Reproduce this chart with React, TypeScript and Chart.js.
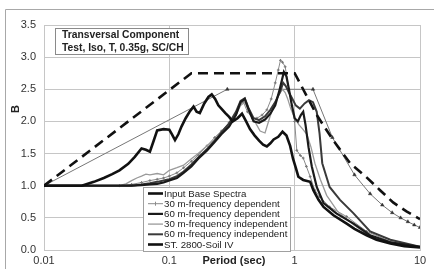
import { useEffect, useRef } from "react";
import { Chart, registerables } from "chart.js";
Chart.register(...registerables);

const FONT = '"Liberation Sans", Arial, sans-serif';

const xTickValues = [0.01, 0.1, 1, 10];
const xTickLabels = ["0.01", "0.1", "1", "10"];

const legendLabels = [
  "Input Base Spectra",
  "30 m-frequency dependent",
  "60 m-frequency dependent",
  "30 m-frequency independent",
  "60 m-frequency independent",
  "ST. 2800-Soil IV",
];
const boxLines = ["Transversal Component", "Test, Iso, T, 0.35g, SC/CH"];

const inputT = [0.01, 0.02, 0.025, 0.03, 0.035, 0.04, 0.047, 0.053, 0.06, 0.065, 0.07, 0.075, 0.08, 0.09, 0.1, 0.105, 0.111, 0.118, 0.125, 0.135, 0.145, 0.156, 0.165, 0.175, 0.19, 0.205, 0.218, 0.232, 0.246, 0.26, 0.28, 0.3, 0.32, 0.35, 0.38, 0.41, 0.44, 0.48, 0.52, 0.56, 0.6, 0.64, 0.68, 0.74, 0.8, 0.86, 0.92, 0.97, 1.02, 1.07, 1.17, 1.33, 1.41, 1.55, 1.7, 2.04, 2.6, 3.0, 3.75, 4.5, 5.8, 7.5, 10];
const inputB = [1.0, 1.0, 1.06, 1.12, 1.18, 1.24, 1.34, 1.45, 1.58, 1.56, 1.53, 1.7, 1.86, 1.88, 1.87, 1.8, 1.71, 1.8, 1.92, 2.05, 2.15, 2.23, 2.15, 2.13, 2.28, 2.38, 2.42, 2.35, 2.25, 2.2, 2.13, 2.07, 2.0, 2.05, 2.12, 2.0, 1.88, 1.78, 1.7, 1.64, 1.61, 1.66, 1.72, 1.76, 1.84, 1.78, 1.62, 1.42, 1.28, 1.14, 1.09, 1.06, 0.93, 0.78, 0.67, 0.54, 0.41, 0.33, 0.23, 0.16, 0.1, 0.06, 0.04];

const dep30T = [0.01, 0.04, 0.05, 0.06, 0.07, 0.08, 0.09, 0.1, 0.115, 0.13, 0.15, 0.17, 0.2, 0.23, 0.26, 0.3, 0.34, 0.37, 0.39, 0.42, 0.46, 0.5, 0.55, 0.6, 0.65, 0.7, 0.74, 0.77, 0.8, 0.84, 0.9, 0.95, 1.0, 1.04, 1.11, 1.17, 1.24, 1.33, 1.45, 1.58, 1.9, 2.6, 3.75, 5.8, 10];
const dep30B = [1.0, 1.0, 1.02, 1.05, 1.08, 1.1, 1.12, 1.15, 1.2, 1.28, 1.38, 1.48, 1.62, 1.75, 1.85, 1.98, 2.12, 2.28, 2.3, 2.15, 2.05, 2.05, 2.1, 2.18, 2.35, 2.6, 2.8, 2.95, 2.92, 2.85, 2.5, 2.25, 2.0, 1.55, 1.47, 1.43, 1.3, 1.14, 0.93, 0.83, 0.67, 0.52, 0.29, 0.13, 0.05];

const dep60T = [0.01, 0.05, 0.06, 0.07, 0.08, 0.09, 0.1, 0.115, 0.13, 0.15, 0.17, 0.2, 0.23, 0.26, 0.3, 0.34, 0.37, 0.4, 0.43, 0.47, 0.52, 0.58, 0.64, 0.7, 0.76, 0.82, 0.86, 0.9, 0.95, 1.0, 1.06, 1.12, 1.17, 1.22, 1.29, 1.37, 1.5, 1.7, 2.15, 2.95, 4.0, 5.8, 10];
const dep60B = [1.0, 1.0, 1.01, 1.02, 1.03, 1.05, 1.08, 1.12, 1.2, 1.3, 1.42, 1.55, 1.68, 1.8, 1.92, 2.1, 2.3, 2.35, 2.18, 2.0, 1.98, 2.03, 2.12, 2.25, 2.5, 2.77, 2.7, 2.5, 2.25, 2.05, 2.0, 2.1, 2.15, 1.95, 1.6, 1.3, 0.98, 0.73, 0.57, 0.41, 0.23, 0.12, 0.05];

const ind30T = [0.01, 0.04, 0.045, 0.05, 0.055, 0.06, 0.065, 0.07, 0.08, 0.09, 0.1, 0.115, 0.13, 0.15, 0.17, 0.2, 0.23, 0.26, 0.3, 0.34, 0.37, 0.4, 0.44, 0.48, 0.53, 0.58, 0.63, 0.68, 0.74, 0.8, 0.84, 0.88, 0.93, 1.0, 1.08, 1.16, 1.25, 1.35, 1.45, 1.6, 1.8, 2.2, 3.0, 4.0, 5.8, 10];
const ind30B = [1.0, 1.0, 1.03, 1.08, 1.12, 1.15, 1.18, 1.17, 1.19, 1.17, 1.24, 1.28, 1.32, 1.42, 1.5, 1.62, 1.72, 1.82, 1.95, 2.1, 2.25, 2.3, 2.12, 2.0, 1.85, 1.82, 2.05, 2.25, 2.4, 2.5, 2.45, 2.35, 2.2, 2.05, 1.95, 1.88, 1.8, 1.6, 1.35, 1.1, 0.85, 0.6, 0.38, 0.22, 0.11, 0.05];

const ind60T = [0.01, 0.05, 0.06, 0.07, 0.08, 0.09, 0.1, 0.115, 0.13, 0.15, 0.17, 0.2, 0.23, 0.26, 0.3, 0.34, 0.37, 0.4, 0.43, 0.47, 0.52, 0.58, 0.64, 0.7, 0.76, 0.81, 0.85, 0.9, 0.96, 1.02, 1.1, 1.2, 1.3, 1.4, 1.5, 1.58, 1.66, 1.9, 2.3, 2.95, 4.0, 5.8, 10];
const ind60B = [1.0, 1.0, 1.02, 1.04, 1.06, 1.08, 1.1, 1.15, 1.22, 1.33, 1.44, 1.57, 1.7, 1.83, 1.97, 2.15, 2.32, 2.36, 2.2, 2.05, 2.02, 2.08, 2.18, 2.3, 2.45, 2.6, 2.55, 2.45, 2.35, 2.25, 2.2, 2.28, 2.33, 2.3, 2.15, 1.81, 1.35, 0.98, 0.78, 0.57, 0.29, 0.16, 0.05];

const stT = [0.01, 0.15, 1.0, 1.5, 2.04, 2.77, 3.75, 4.8, 6.1, 7.8, 10];
const stB = [1.0, 2.75, 2.75, 2.1, 1.7, 1.35, 1.13, 0.93, 0.74, 0.6, 0.48];

const otherT = [0.01, 0.29, 1.4, 2, 3, 4, 5, 6, 7, 8, 9, 10];
const otherB = [1.0, 2.5, 2.5, 1.75, 1.17, 0.875, 0.7, 0.58, 0.5, 0.44, 0.39, 0.35];

const pts = (t: number[], b: number[]) => t.map((x, i) => ({ x, y: b[i] }));

type Sw = { color: string; width: number; dash?: number[]; marker?: boolean };
const swatches: Sw[] = [
  { color: "#111", width: 2.6 },
  { color: "#8a8a8a", width: 1, marker: true },
  { color: "#1a1a1a", width: 2.2 },
  { color: "#9a9a9a", width: 1.3 },
  { color: "#3a3a3a", width: 2 },
  { color: "#111", width: 2.6 },
];

const extras = {
  id: "extras",
  afterDatasetsDraw(chart: any) {
    const c = chart.ctx;
    c.save();
    // annotation box
    c.fillStyle = "#fff";
    c.fillRect(55.5, 28.5, 133, 26);
    c.strokeStyle = "#8a8a8a";
    c.lineWidth = 1;
    c.strokeRect(55.5, 28.5, 133, 26);
    c.fillStyle = "#222";
    c.font = `bold 10.3px ${FONT}`;
    c.textBaseline = "middle";
    c.textAlign = "left";
    c.fillText(boxLines[0], 62, 35.5);
    c.fillText(boxLines[1], 62, 48);
    // legend
    c.fillStyle = "#fff";
    c.fillRect(143.5, 187.5, 147, 64);
    c.strokeStyle = "#a0a0a0";
    c.strokeRect(143.5, 187.5, 147, 64);
    c.font = `9.7px ${FONT}`;
    legendLabels.forEach((lab, i) => {
      const y = 193.5 + i * 10.2;
      const s = swatches[i];
      c.beginPath();
      c.strokeStyle = s.color;
      c.lineWidth = s.width;
      c.setLineDash(s.dash || []);
      c.moveTo(148, y);
      c.lineTo(163, y);
      c.stroke();
      c.setLineDash([]);
      if (s.marker) {
        c.beginPath();
        c.lineWidth = 1;
        c.moveTo(155.5, y - 2);
        c.lineTo(155.5, y + 2);
        c.stroke();
      }
      c.fillStyle = "#222";
      c.fillText(lab, 164, y + 0.5);
    });
    c.restore();
  },
  afterDraw(chart: any) {
    const c = chart.ctx;
    const a = chart.chartArea;
    c.save();
    // outer frame
    c.strokeStyle = "#a8a8a8";
    c.lineWidth = 1;
    c.beginPath();
    c.moveTo(5.5, 269);
    c.lineTo(5.5, 9.5);
    c.lineTo(434, 9.5);
    c.stroke();
    c.fillStyle = "#222";
    c.font = `bold 11px ${FONT}`;
    c.textAlign = "center";
    c.textBaseline = "middle";
    c.fillText("Period (sec)", (a.left + a.right) / 2 + 2, a.bottom + 10.5);
    c.translate(15.5, 109);
    c.rotate(-Math.PI / 2);
    c.fillText("B", 0, 0);
    c.restore();
  },
};

export default function App() {
  const ref = useRef<HTMLCanvasElement>(null);
  useEffect(() => {
    const grid = "#c6c6c6";
    const chart = new Chart(ref.current!, {
      type: "scatter",
      data: {
        datasets: [
          { label: legendLabels[5], data: pts(stT, stB), showLine: true, borderColor: "#111", borderWidth: 2.6, borderDash: [10, 6], pointRadius: 0 },
          { label: legendLabels[0], data: pts(inputT, inputB), showLine: true, borderColor: "#111", borderWidth: 2.6, pointRadius: 0 },
          { label: legendLabels[2], data: pts(dep60T, dep60B), showLine: true, borderColor: "#1a1a1a", borderWidth: 2.2, pointRadius: 0 },
          { label: legendLabels[4], data: pts(ind60T, ind60B), showLine: true, borderColor: "#3a3a3a", borderWidth: 2, pointRadius: 0 },
          { label: legendLabels[3], data: pts(ind30T, ind30B), showLine: true, borderColor: "#9a9a9a", borderWidth: 1.3, pointRadius: 0 },
          { label: legendLabels[1], data: pts(dep30T, dep30B), showLine: true, borderColor: "#8a8a8a", borderWidth: 1, pointRadius: 1.4, pointStyle: "cross", pointBorderColor: "#777", pointBorderWidth: 1 },
          { label: "other", data: pts(otherT, otherB), showLine: true, borderColor: "#777", borderWidth: 1, pointRadius: otherT.map((_, i) => (i === 0 ? 0 : 2)), pointStyle: "triangle", pointBackgroundColor: "#333", pointBorderColor: "#333", pointBorderWidth: 0.5 },
        ],
      },
      options: {
        responsive: false,
        animation: false,
        devicePixelRatio: 1,
        layout: { padding: { top: 25, right: 14, left: 0, bottom: 0 } },
        plugins: { legend: { display: false }, tooltip: { enabled: false } },
        scales: {
          x: {
            type: "logarithmic",
            min: 0.01,
            max: 10,
            afterBuildTicks: (s: any) => {
              s.ticks = xTickValues.map((v) => ({ value: v }));
            },
            afterFit: (s: any) => {
              s.height = 19;
            },
            ticks: {
              autoSkip: false,
              maxRotation: 0,
              padding: 4,
              color: "#333",
              font: { family: FONT, size: 11 },
              callback: (_v: any, i: number) => xTickLabels[i],
            },
            grid: { color: grid, drawTicks: false },
            border: { color: grid },
          },
          y: {
            min: 0,
            max: 3.5,
            afterFit: (s: any) => {
              s.width = 44;
            },
            ticks: {
              stepSize: 0.5,
              padding: 8,
              color: "#333",
              font: { family: FONT, size: 11 },
              callback: (v: any) => Number(v).toFixed(1),
            },
            grid: { color: grid, drawTicks: false },
            border: { color: grid },
          },
        },
      },
      plugins: [extras],
    } as any);
    return () => chart.destroy();
  }, []);
  return (
    <div style={{ position: "fixed", left: 0, top: 0, width: 434, height: 269, background: "#fff" }}>
      <canvas ref={ref} width={434} height={269} style={{ width: 434, height: 269, display: "block" }} />
    </div>
  );
}
